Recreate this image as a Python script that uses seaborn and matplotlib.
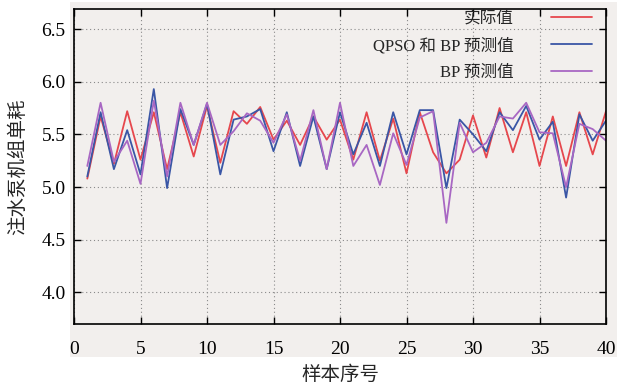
"""Actual vs predicted unit consumption of injection pumps (QPSO-BP vs BP)."""

import matplotlib

matplotlib.use("Agg")
import matplotlib.pyplot as plt
import pandas as pd
import seaborn as sns
from matplotlib.patches import Rectangle

sample_idx = list(range(1, 41))

actual = [5.08, 5.67, 5.22, 5.72, 5.26, 5.71, 5.17, 5.71, 5.29, 5.77,
          5.23, 5.72, 5.60, 5.76, 5.45, 5.63, 5.40, 5.67, 5.45, 5.64,
          5.26, 5.71, 5.25, 5.65, 5.13, 5.71, 5.33, 5.13, 5.26, 5.68,
          5.28, 5.75, 5.33, 5.71, 5.20, 5.67, 5.20, 5.71, 5.31, 5.72]

qpso_bp = [5.10, 5.71, 5.17, 5.54, 5.12, 5.93, 4.99, 5.74, 5.40, 5.79,
           5.12, 5.64, 5.67, 5.74, 5.34, 5.71, 5.20, 5.67, 5.17, 5.71,
           5.31, 5.61, 5.20, 5.71, 5.31, 5.73, 5.73, 4.99, 5.64, 5.50,
           5.34, 5.71, 5.54, 5.77, 5.45, 5.62, 4.90, 5.69, 5.44, 5.63]

bp_only = [5.20, 5.80, 5.24, 5.44, 5.03, 5.82, 5.10, 5.80, 5.40, 5.80,
           5.40, 5.53, 5.70, 5.63, 5.42, 5.69, 5.25, 5.73, 5.17, 5.80,
           5.20, 5.40, 5.02, 5.51, 5.21, 5.66, 5.72, 4.66, 5.61, 5.33,
           5.42, 5.67, 5.65, 5.80, 5.52, 5.51, 5.00, 5.60, 5.55, 5.44]

series_names = ["实际值", "QPSO 和 BP 预测值", "BP 预测值"]
series_colors = ["#e6474d", "#3a56a6", "#a867c3"]

x_ticks = [0, 5, 10, 15, 20, 25, 30, 35, 40]
y_ticks = [4.0, 4.5, 5.0, 5.5, 6.0, 6.5]


def main() -> None:
    sns.set_style("ticks")
    plt.rcParams["font.family"] = ["Liberation Serif", "Noto Sans CJK SC"]

    df = pd.concat(
        [
            pd.DataFrame({"sample": sample_idx, "value": vals, "series": name})
            for name, vals in zip(series_names, [actual, qpso_bp, bp_only])
        ],
        ignore_index=True,
    )

    fig = plt.figure(figsize=(6.17, 3.89), dpi=100)
    # grey panel behind the plot area and tick labels
    fig.patches.append(
        Rectangle((70 / 617, 1 - 357 / 389), 1 - 70 / 617, 357 / 389 - 0.005,
                  transform=fig.transFigure, facecolor="#f2efed", edgecolor="none", zorder=-10)
    )
    ax = fig.add_axes([74 / 617, 1 - 324 / 389, 532 / 617, (324 - 9) / 389])
    ax.set_facecolor("#f2efed")

    sns.lineplot(
        data=df, x="sample", y="value", hue="series", hue_order=series_names,
        palette=dict(zip(series_names, series_colors)), linewidth=1.3, ax=ax,
    )

    ax.set_xlim(0, 40)
    ax.set_ylim(3.70, 6.69)
    ax.set_xticks(x_ticks)
    ax.set_yticks(y_ticks)
    ax.set_yticklabels([f"{v:.1f}" for v in y_ticks])
    ax.grid(True, linestyle=(0, (1, 2.5)), color="#8a8a8a", linewidth=0.8)
    ax.tick_params(direction="in", length=5, width=1, top=True, right=True,
                   labelsize=14, colors="black")
    ax.tick_params(axis="x", pad=12)
    ax.tick_params(axis="y", pad=6)
    for s in ax.spines.values():
        s.set_color("black")
        s.set_linewidth(1.2)
        s.set_zorder(5)

    ax.set_xlabel("样本序号", fontsize=14, labelpad=6)
    ax.set_ylabel("注水泵机组单耗", fontsize=14, labelpad=10)

    ax.legend(
        loc="upper right", bbox_to_anchor=(1 - 12 / 532, 1.0), frameon=False,
        markerfirst=False, fontsize=12, handlelength=2.5, handletextpad=2.2,
        labelspacing=0.65, borderaxespad=0, borderpad=0.1,
    )

    fig.savefig("out.png", dpi=100)
    plt.close(fig)


if __name__ == "__main__":
    main()
